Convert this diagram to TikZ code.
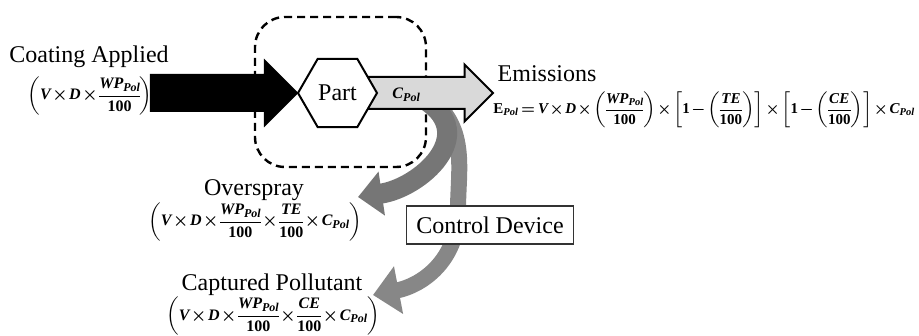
\documentclass[tikz,border=0pt]{standalone}
\usepackage{amsmath}
\usepackage{fontspec}
\setmainfont{Liberation Serif}
\usetikzlibrary{shapes.geometric,shapes.arrows,arrows.meta,positioning,calc,backgrounds}
\definecolor{flowgray}{RGB}{217,217,217}
\definecolor{spraygray}{RGB}{118,118,118}
\definecolor{capturegray}{RGB}{135,135,135}
% bold italic letters and bold digits, as in the formulas
\newcommand{\mv}[1]{\text{\bfseries\itshape #1}}
\newcommand{\mn}[1]{\text{\bfseries #1}}
\newcommand{\eqtext}[2][8]{{\fontsize{#1}{10}\selectfont\boldmath
  \medmuskip=1.5mu\thickmuskip=3mu\nulldelimiterspace=0pt\scriptspace=0pt
  \delimiterfactor=850\delimitershortfall=6pt
  $\displaystyle #2$}}

\begin{document}
\begin{tikzpicture}[
  x=0.5pt, y=0.5pt,
  every node/.style={font=\fontsize{12}{14}\selectfont},
  blockarrow/.style={single arrow, draw=black, line width=1pt, inner xsep=0pt, outer sep=0pt,
                     single arrow tip angle=90},
  bendarrow/.style={line width=#1},
]
\useasboundingbox (0,0) rectangle (919,-336);

% Part with its dashed boundary
\node[regular polygon, regular polygon sides=6, draw, line width=1pt, fill=white,
      minimum size=39.5pt, inner sep=0pt] (part) at (337.5,-93) {Part};

% Labels and formulas
\node[inner sep=0.5pt] (applied) at (89,-57) {Coating Applied};
\node[inner sep=0.5pt] (appliedeq) at (90,-96)
      {\eqtext{\left(\mv{V}\times\mv{D}\times\frac{\mv{WP}_{\mv{Pol}}}{\mn{100}}\right)}};

\node (emissions) at (547,-74) {Emissions};
\node[anchor=west, inner sep=0pt] (emissionseq) at (493,-110)
      {\eqtext[7.5]{\mn{E}_{\mv{Pol}}=\mv{V}\times\mv{D}\times\left(\frac{\mv{WP}_{\mv{Pol}}}{\mn{100}}\right)\times\left[\mn{1}-\left(\frac{\mv{TE}}{\mn{100}}\right)\right]\times\left[\mn{1}-\left(\frac{\mv{CE}}{\mn{100}}\right)\right]\times\mv{C}_{\mv{Pol}}}};

\node (overspray) at (254,-190) {Overspray};
\node (oversprayeq) at (255,-222)
      {\eqtext{\left(\mv{V}\times\mv{D}\times\frac{\mv{WP}_{\mv{Pol}}}{\mn{100}}\times\frac{\mv{TE}}{\mn{100}}\times\mv{C}_{\mv{Pol}}\right)}};

\node (captured) at (272,-285) {Captured Pollutant};
\node (capturedeq) at (273,-316)
      {\eqtext{\left(\mv{V}\times\mv{D}\times\frac{\mv{WP}_{\mv{Pol}}}{\mn{100}}\times\frac{\mv{CE}}{\mn{100}}\times\mv{C}_{\mv{Pol}}\right)}};

% Ends of the curved flows
\coordinate (sprayfrom) at (425,-100);
\coordinate (sprayto) at (358,-197);
\coordinate (capturefrom) at (432,-100);
\coordinate (capturemid) at (458,-210);
\coordinate (captureto) at (373,-295);

\begin{scope}[on background layer]
  \node[draw, line width=1.2pt, dash pattern=on 4pt off 2.5pt, rounded corners=15pt,
        minimum width=85.5pt, minimum height=75pt] (partbox) at ($(part.center)+(3,1)$) {};
  % flow through the control device
  \draw[bendarrow=8pt, capturegray, -{Triangle[length=13pt, width=23.5pt]}]
    (capturefrom) .. controls (468,-130) and (458,-170) .. (capturemid)
    .. controls (458,-262) and (420,-286) .. (captureto);
  % overspray flow
  \draw[bendarrow=10pt, spraygray, -{Triangle[length=12pt, width=21.5pt]}]
    (sprayfrom) .. controls (480,-135) and (420,-188) .. (sprayto);
  % coating in, emissions out
  \node[blockarrow, fill=black, minimum height=73pt, inner ysep=8.5pt,
        single arrow head extend=7pt, anchor=tip] (coating) at (part.west) {};
  \node[blockarrow, fill=flowgray, minimum height=65.25pt, inner ysep=7.5pt,
        single arrow head extend=6.25pt, anchor=tail] (emission) at ($(part.center)+(25,0)$) {};
\end{scope}

\node (cpol) at ($(part.east)+(28,-2)$) {\eqtext{\mv{C}_{\mv{Pol}}}};

\node[draw=black!80, line width=0.6pt, fill=white, minimum width=83.5pt, minimum height=19pt,
      inner sep=2pt] (control) at (490,-225) {Control Device};
\end{tikzpicture}
\end{document}
